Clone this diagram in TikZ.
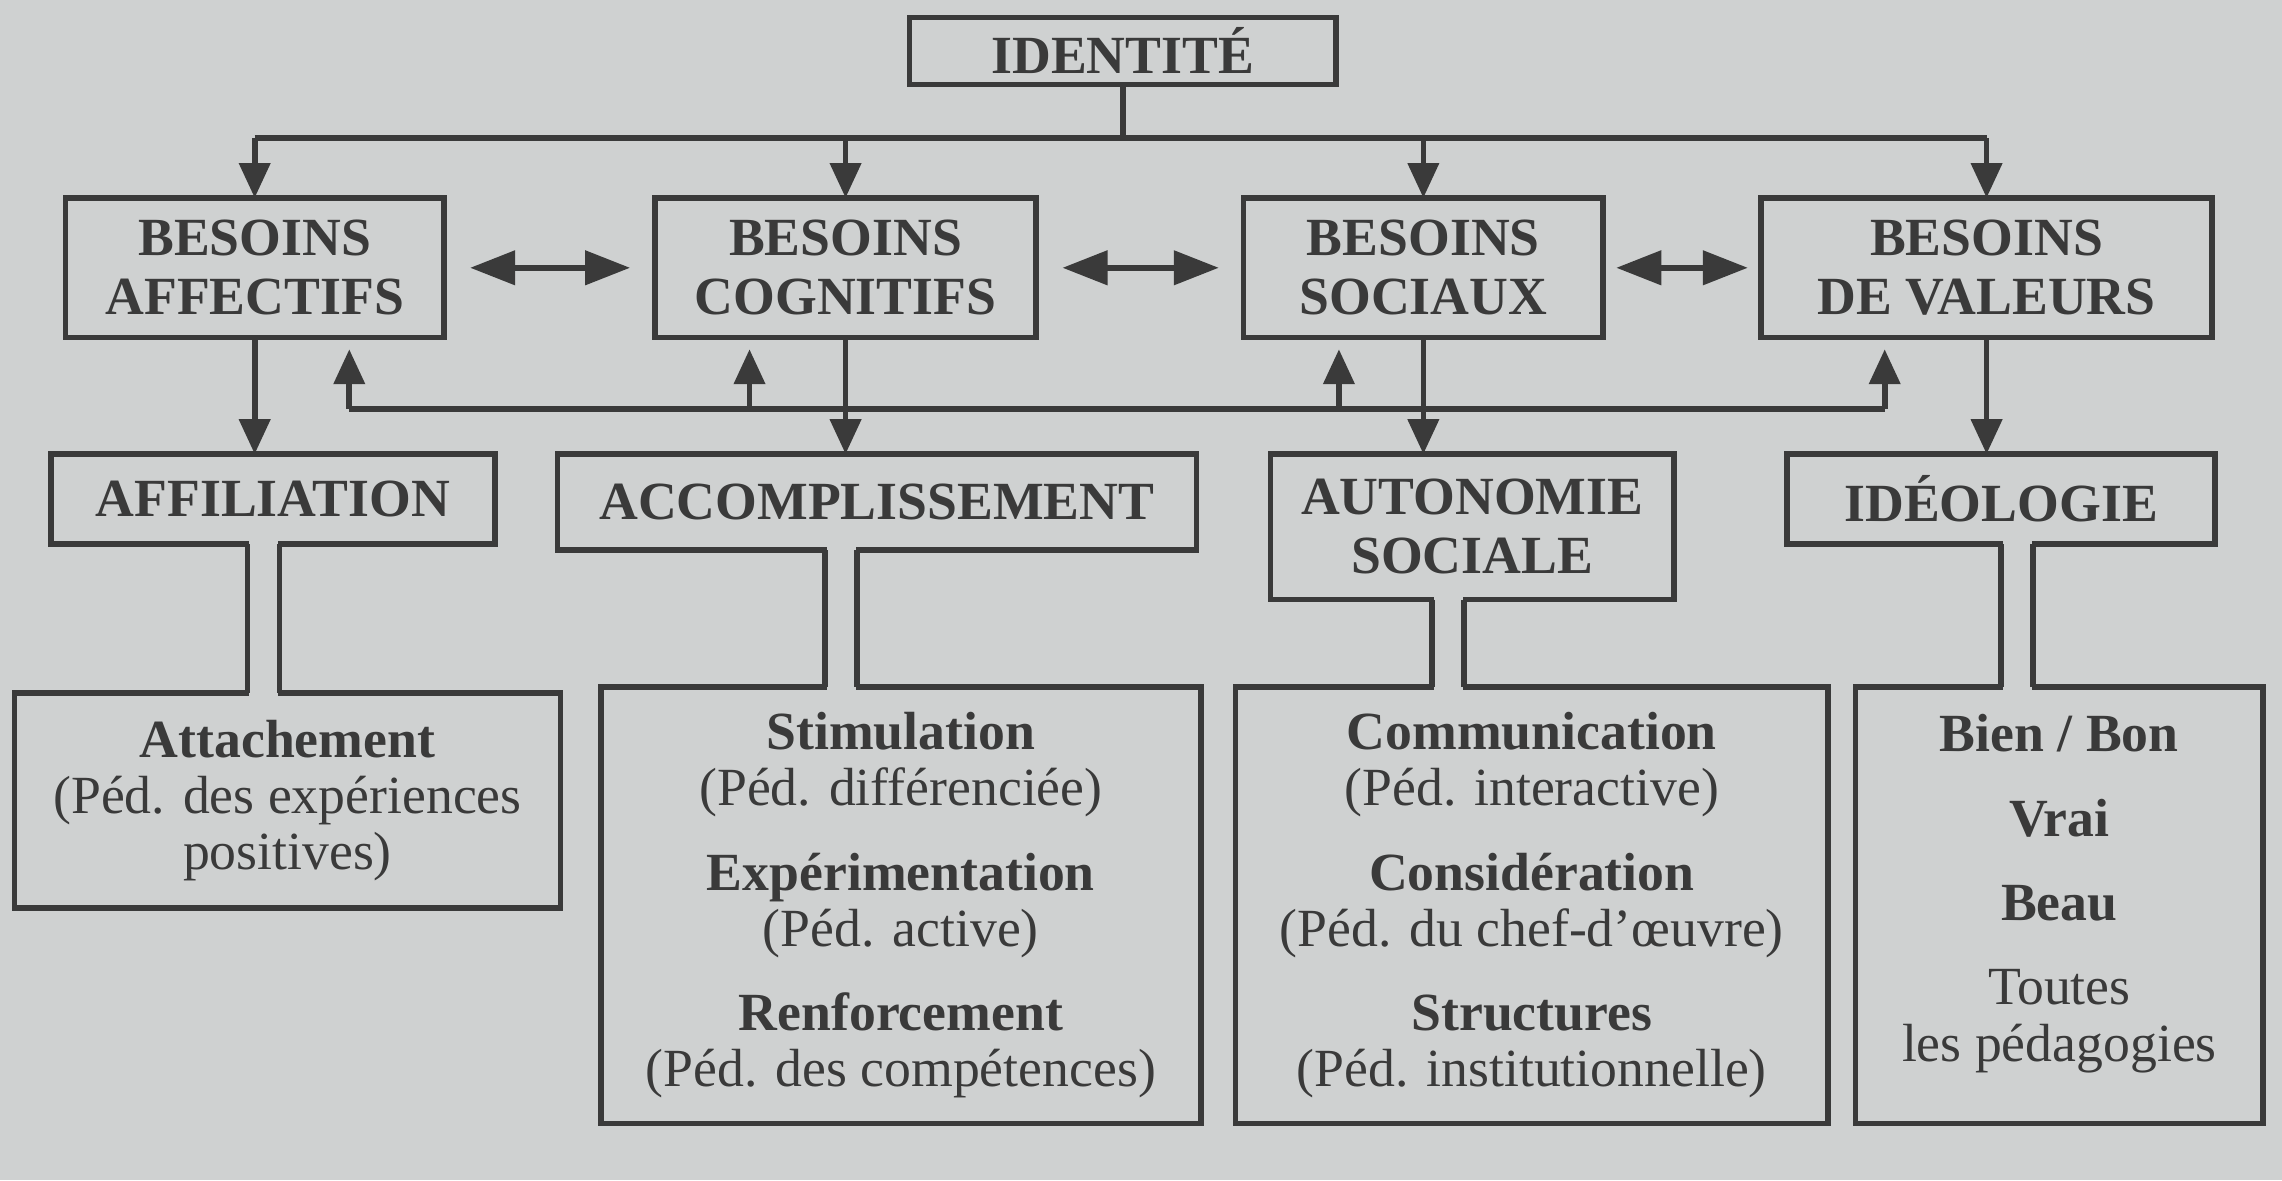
\documentclass[tikz,border=0pt]{standalone}
\usepackage{fontspec}
\setmainfont{Liberation Serif}
\usetikzlibrary{arrows.meta, calc, positioning}
\definecolor{paper}{RGB}{207,209,209}
\definecolor{ink}{RGB}{58,58,58}

\begin{document}
\begin{tikzpicture}[>={Triangle[length=0.24cm,width=0.21cm]}, color=ink, line width=1.1pt,
	box/.style={draw, line width=1.1pt, align=center, inner sep=0pt, outer sep=0pt},
	head/.style={box, font=\fontsize{10.5}{11.5}\selectfont\bfseries},
	leaf/.style={box, anchor=north, font=\fontsize{10.5}{11}\selectfont},
	both/.style={line width=1.2pt, {Triangle[length=0.31cm,width=0.23cm]}-{Triangle[length=0.31cm,width=0.23cm]}, shorten <=0.18cm, shorten >=0.17cm}]
		\fill[paper] (0,0) rectangle (15.68,-8.11);
		\useasboundingbox (0,0) rectangle (15.68,-8.11);

		\node[head, minimum width=2.93cm, minimum height=0.46cm] (ident) at (7.715,-0.35) {IDENTITÉ};

		\node[head, anchor=north, minimum width=2.60cm, minimum height=0.96cm] (baff) at (1.75,-1.36) {BESOINS\\AFFECTIFS};
		\node[head, anchor=north, minimum width=2.62cm, minimum height=0.96cm] (bcog) at (5.81,-1.36) {BESOINS\\COGNITIFS};
		\node[head, anchor=north, minimum width=2.47cm, minimum height=0.96cm] (bsoc) at (9.78,-1.36) {BESOINS\\SOCIAUX};
		\node[head, anchor=north, minimum width=3.10cm, minimum height=0.96cm] (bval) at (13.65,-1.36) {BESOINS\\DE VALEURS};

		\node[head, anchor=north, minimum width=3.05cm, minimum height=0.62cm] (affil) at (1.875,-3.12) {AFFILIATION};
		\node[head, anchor=north, minimum width=4.39cm, minimum height=0.66cm] (accomp) at (6.025,-3.12) {ACCOMPLISSEMENT};
		\node[head, anchor=north, minimum width=2.77cm, minimum height=1.00cm] (auton) at (10.115,-3.12) {AUTONOMIE\\SOCIALE};
		\node[head, anchor=north, minimum width=2.94cm, minimum height=0.62cm] (ideo) at (13.75,-3.12) {IDÉOLOGIE};

		\node[leaf, minimum width=3.75cm, minimum height=1.48cm] (attach) at (1.975,-4.76) {\textbf{Attachement}\\(Péd. des expériences\\positives)};
		\node[leaf, minimum width=4.12cm, minimum height=3.00cm] (stim) at (6.19,-4.72) {\textbf{Stimulation}\\(Péd. différenciée)\\[5.5pt]\textbf{Expérimentation}\\(Péd. active)\\[5.5pt]\textbf{Renforcement}\\(Péd. des compétences)};
		\node[leaf, minimum width=4.07cm, minimum height=3.00cm] (comm) at (10.525,-4.72) {\textbf{Communication}\\(Péd. interactive)\\[5.5pt]\textbf{Considération}\\(Péd. du chef-d’œuvre)\\[5.5pt]\textbf{Structures}\\(Péd. institutionnelle)};
		\node[leaf, minimum width=2.80cm, minimum height=3.00cm] (bien) at (14.15,-4.72) {};
		\node[align=center, inner sep=0pt, font=\fontsize{10.5}{11}\selectfont, below=0.17cm of bien.north] (bientxt) {\textbf{Bien / Bon}\\[5.5pt]\textbf{Vrai}\\[5.5pt]\textbf{Beau}\\[5.5pt]Toutes\\les pédagogies};

		\coordinate (bus) at (7.715,-0.95);
		\draw (ident) -- (bus); \draw (baff.north |- bus) -- (bval.north |- bus);
		\foreach \n in {baff, bcog, bsoc, bval} \draw[->] (\n.north |- bus) -- (\n.north);

		\draw[both] (baff) -- (bcog); \draw[both] (bcog) -- (bsoc); \draw[both, shorten <=0.09cm, shorten >=0.09cm] (bsoc) -- (bval);

		\coordinate (fb1) at (2.40,-2.81); \coordinate (fb2) at (5.15,-2.81); \coordinate (fb3) at (9.20,-2.81); \coordinate (fb4) at (12.95,-2.81);
		\draw (fb1) -- (fb4);
		\draw[->] (fb1) -- ($(fb1 |- baff.south)+(0,-0.08)$); \draw[->] (fb2) -- ($(fb2 |- bcog.south)+(0,-0.08)$);
		\draw[->] (fb3) -- ($(fb3 |- bsoc.south)+(0,-0.08)$); \draw[->] (fb4) -- ($(fb4 |- bval.south)+(0,-0.08)$);

		\draw[->] (baff) -- (baff.south |- affil.north); \draw[->] (bcog) -- (bcog.south |- accomp.north);
		\draw[->] (bsoc) -- (bsoc.south |- auton.north); \draw[->] (bval) -- (bval.south |- ideo.north);

		\foreach \a/\b/\x in {affil/attach/1.81, accomp/stim/5.78, auton/comm/9.95, ideo/bien/13.86}{
			\fill[paper] ($(\a.south -| \x,0)+(-0.1,0.03)$) rectangle ($(\b.north -| \x,0)+(0.1,-0.03)$);
			\draw ($(\a.south -| \x,0)+(-0.11,0)$) -- ($(\b.north -| \x,0)+(-0.11,0)$);
			\draw ($(\a.south -| \x,0)+(0.11,0)$) -- ($(\b.north -| \x,0)+(0.11,0)$);
		}
	\end{tikzpicture}
\end{document}
